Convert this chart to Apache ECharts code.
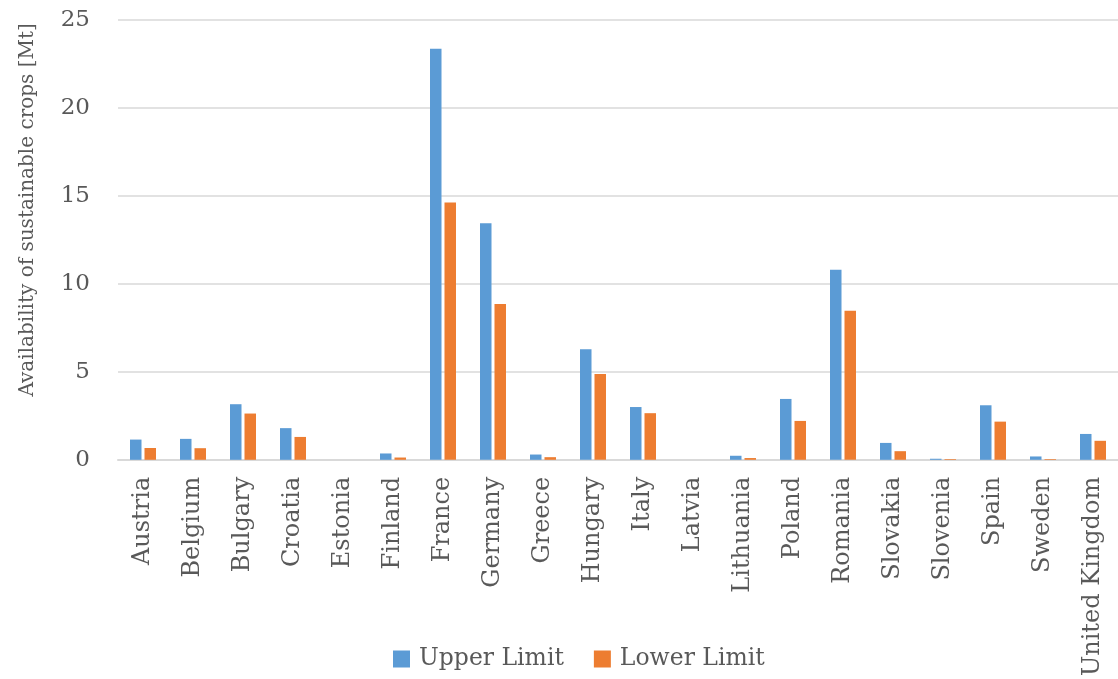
<!DOCTYPE html>
<html>
<head>
<meta charset="utf-8">
<script src="https://cdn.jsdelivr.net/npm/echarts@6/dist/echarts.min.js"></script>
<style>
  html, body { margin: 0; padding: 0; background: #ffffff; }
  #chart { width: 1118px; height: 679px; }
</style>
</head>
<body>
<div id="chart"></div>
<script>
// Countries on the category axis
const countries = ['Austria', 'Belgium', 'Bulgary', 'Croatia', 'Estonia', 'Finland', 'France',
  'Germany', 'Greece', 'Hungary', 'Italy', 'Latvia', 'Lithuania', 'Poland', 'Romania',
  'Slovakia', 'Slovenia', 'Spain', 'Sweden', 'United Kingdom'];

// Availability of sustainable crops, Mt
const upperLimit = [1.15, 1.19, 3.16, 1.80, 0.0, 0.36, 23.36, 13.44, 0.30, 6.29, 3.00,
  0.0, 0.23, 3.46, 10.81, 0.96, 0.06, 3.10, 0.19, 1.47];
const lowerLimit = [0.67, 0.66, 2.63, 1.30, 0.0, 0.13, 14.63, 8.86, 0.15, 4.88, 2.65,
  -0.1, 0.10, 2.21, 8.47, 0.49, 0.04, 2.17, 0.04, 1.08];

const seriesNames = ['Upper Limit', 'Lower Limit'];
const yTicks = { min: 0, max: 25, interval: 5 };

const textColor = '#595959';
const fontFamily = '"DejaVu Serif", "Liberation Serif", serif';

const chart = echarts.init(document.getElementById('chart'), null, { renderer: 'canvas' });

chart.setOption({
  animation: false,
  backgroundColor: '#ffffff',
  textStyle: { fontFamily: fontFamily, color: textColor },
  grid: { left: 118, right: 0, top: 20, bottom: 218, containLabel: false },
  legend: {
    data: seriesNames,
    bottom: 3,
    left: 388,
    itemWidth: 17,
    itemHeight: 17,
    itemGap: 30,
    icon: 'rect',
    textStyle: { fontFamily: fontFamily, fontSize: 23.5, color: textColor, padding: [0, 0, 0, 4] }
  },
  xAxis: {
    type: 'category',
    data: countries,
    axisLine: { lineStyle: { color: '#d9d9d9', width: 2 } },
    axisTick: { show: false },
    axisLabel: {
      rotate: 90,
      interval: 0,
      margin: 17,
      fontFamily: fontFamily,
      fontSize: 24,
      color: textColor
    }
  },
  yAxis: {
    type: 'value',
    min: yTicks.min,
    max: yTicks.max,
    interval: yTicks.interval,
    name: 'Availability of sustainable crops [Mt]',
    nameLocation: 'middle',
    nameGap: 80,
    nameRotate: 90,
    nameTextStyle: { fontFamily: fontFamily, fontSize: 20, color: textColor, padding: [0, 0, 0, 60] },
    axisLine: { show: false },
    axisTick: { show: false },
    axisLabel: { margin: 28, fontFamily: fontFamily, fontSize: 23, color: textColor },
    splitLine: { lineStyle: { color: '#d9d9d9', width: 1.5 } }
  },
  series: [
    {
      name: seriesNames[0],
      type: 'bar',
      data: upperLimit,
      barWidth: 11.5,
      barGap: '26%',
      itemStyle: { color: '#5b9bd5' }
    },
    {
      name: seriesNames[1],
      type: 'bar',
      data: lowerLimit,
      barWidth: 11.5,
      itemStyle: { color: '#ed7d31' }
    }
  ]
});
</script>
</body>
</html>
